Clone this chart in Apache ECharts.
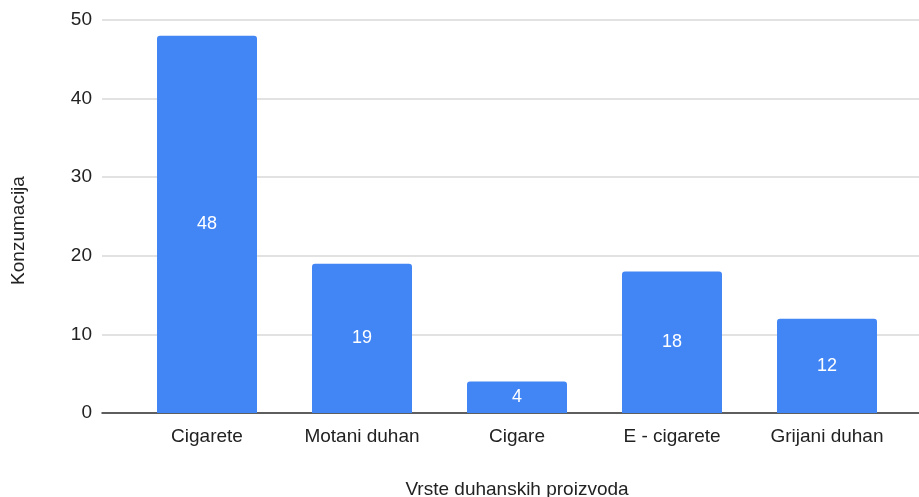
<!DOCTYPE html>
<html>
<head>
<meta charset="utf-8">
<script src="https://cdn.jsdelivr.net/npm/echarts@6/dist/echarts.min.js"></script>
<style>
  html, body { margin: 0; padding: 0; background: #fff; }
  #chart { width: 919px; height: 497px; }
</style>
</head>
<body>
<div id="chart"></div>
<script>
/* ================================
   DATA
================================ */
const categories = ["Cigarete", "Motani duhan", "Cigare", "E - cigarete", "Grijani duhan"];
const values     = [48, 19, 4, 18, 12];
const yTicks     = [0, 10, 20, 30, 40, 50];

const xTitle = "Vrste duhanskih proizvoda";
const yTitle = "Konzumacija";

const FONT = "Liberation Sans, Arial, sans-serif";

/* ================================
   CHART
================================ */
const chart = echarts.init(document.getElementById("chart"));

chart.setOption({
  animation: false,
  grid: [
    // grid 0: gridlines + y labels, full width
    { left: 102, right: 0, top: 20, bottom: 84, outerBoundsMode: "none", containLabel: false },
    // grid 1: bars, narrower like the reference
    { left: 129.5, right: 14.5, top: 20, bottom: 84, outerBoundsMode: "none", containLabel: false }
  ],
  xAxis: [
    {
      gridIndex: 0, type: "value", min: 0, max: 1,
      axisLine: { show: true, onZero: false, lineStyle: { color: "#333", width: 1.5 } },
      axisTick: { show: false }, axisLabel: { show: false }, splitLine: { show: false }
    },
    {
      gridIndex: 1, type: "category", data: categories,
      axisLine: { show: false }, axisTick: { show: false },
      axisLabel: { color: "#222", fontSize: 19, fontFamily: FONT, margin: 14 },
      name: xTitle, nameLocation: "middle", nameGap: 67,
      nameTextStyle: { color: "#222", fontSize: 19, fontFamily: FONT }
    }
  ],
  yAxis: [
    {
      gridIndex: 0, type: "value",
      min: yTicks[0], max: yTicks[yTicks.length - 1], interval: 10,
      axisLine: { show: false }, axisTick: { show: false },
      axisLabel: { color: "#222", fontSize: 19, fontFamily: FONT, margin: 10 },
      splitLine: { lineStyle: { color: "#d9d9d9", width: 1.5 } },
      name: yTitle, nameLocation: "middle", nameGap: 74, nameRotate: 90,
      nameTextStyle: { color: "#222", fontSize: 19, fontFamily: FONT, padding: [0, 0, 0, -28] }
    },
    {
      gridIndex: 1, type: "value",
      min: yTicks[0], max: yTicks[yTicks.length - 1], interval: 10,
      show: false
    }
  ],
  series: [
    {
      type: "bar",
      xAxisIndex: 1, yAxisIndex: 1,
      data: values,
      barWidth: 100,
      itemStyle: { color: "#4285F4", borderRadius: [3, 3, 0, 0] },
      label: {
        show: true, position: "inside",
        color: "#fff", fontSize: 18, fontFamily: FONT
      }
    }
  ]
});
</script>
</body>
</html>
